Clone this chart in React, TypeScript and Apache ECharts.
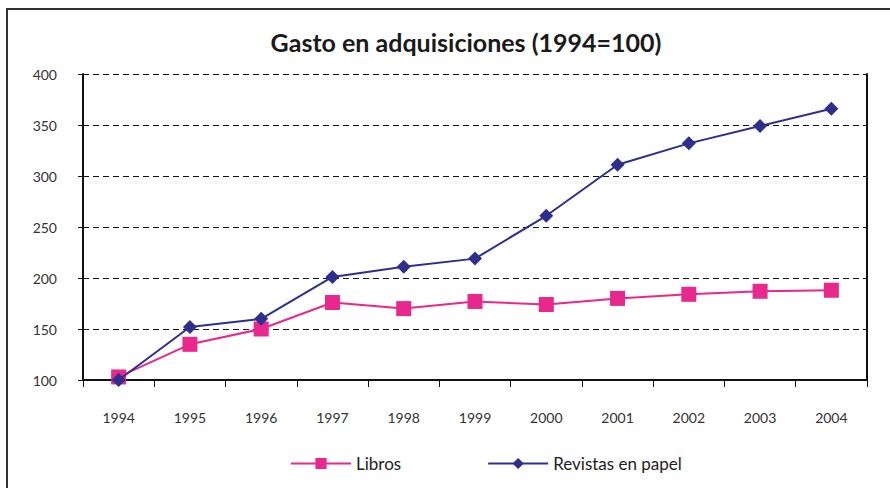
import React, { useEffect, useRef } from "react";
import * as echarts from "echarts";

const years = ["1994", "1995", "1996", "1997", "1998", "1999", "2000", "2001", "2002", "2003", "2004"];
const libros = [103, 135, 150, 176, 170, 177, 174, 180, 184, 187, 188];
const revistas = [100, 152, 160, 201, 211, 219, 261, 311, 332, 349, 366];
const titleText = "Gasto en adquisiciones (1994=100)";
const seriesNames = ["Libros", "Revistas en papel"];

const PINK = "#E8288C";
const NAVY = "#2E2E8F";
const FONT = "Lato, 'Open Sans', sans-serif";

export default function App() {
  const ref = useRef<HTMLDivElement>(null);
  useEffect(() => {
    if (!ref.current) return;
    const chart = echarts.init(ref.current, null, { renderer: "svg" });
    chart.setOption({
      animation: false,
      backgroundColor: "#ffffff",
      textStyle: { fontFamily: FONT },
      title: {
        text: titleText,
        left: 461,
        textAlign: "center",
        top: 24,
        textStyle: { fontSize: 25, fontWeight: "bold", color: "#1a1a1a", fontFamily: FONT },
      },
      graphic: [
        {
          type: "rect",
          shape: { x: 7, y: 9, width: 900, height: 500 },
          style: { fill: "none", stroke: "#333", lineWidth: 2 },
          silent: true,
        },
      ],
      legend: {
        left: 285,
        top: 450,
        itemWidth: 60,
        itemHeight: 14,
        itemGap: 86,
        textStyle: { fontSize: 17, color: "#222", fontFamily: FONT },
        data: seriesNames,
      },
      grid: { left: 83, right: 23, top: 74, bottom: 108, containLabel: false },
      xAxis: {
        type: "category",
        data: years,
        boundaryGap: true,
        axisLine: { show: true, lineStyle: { color: "#111", width: 2 } },
        axisTick: { show: true, length: 7, lineStyle: { color: "#111", width: 1 } },
        axisLabel: { fontSize: 14, color: "#333", margin: 30, fontFamily: FONT },
        splitLine: { show: false },
      },
      yAxis: [
        {
          type: "value",
          min: 100,
          max: 400,
          interval: 50,
          axisLine: { show: true, lineStyle: { color: "#111", width: 2 } },
          axisTick: { show: true, length: 5, lineStyle: { color: "#111", width: 1 } },
          axisLabel: { fontSize: 14, color: "#333", margin: 26, fontFamily: FONT },
          splitLine: { show: true, lineStyle: { color: "#111", type: [6, 4], width: 1.2 } },
        },
        {
          type: "value",
          position: "right",
          min: 100,
          max: 400,
          interval: 50,
          axisLine: { show: true, lineStyle: { color: "#111", width: 2 } },
          axisTick: { show: false },
          axisLabel: { show: false },
          splitLine: { show: false },
        },
      ],
      series: [
        {
          name: seriesNames[0],
          type: "line",
          data: libros,
          symbol: "rect",
          symbolSize: 15,
          lineStyle: { color: PINK, width: 2 },
          itemStyle: { color: PINK },
          z: 2,
        },
        {
          name: seriesNames[1],
          type: "line",
          data: revistas,
          symbol: "diamond",
          symbolSize: 14,
          lineStyle: { color: NAVY, width: 2 },
          itemStyle: { color: NAVY },
          z: 3,
        },
      ],
    });
    return () => chart.dispose();
  }, []);
  return (
    <div
      ref={ref}
      style={{ position: "absolute", left: 0, top: 0, width: 890, height: 488 }}
    />
  );
}
